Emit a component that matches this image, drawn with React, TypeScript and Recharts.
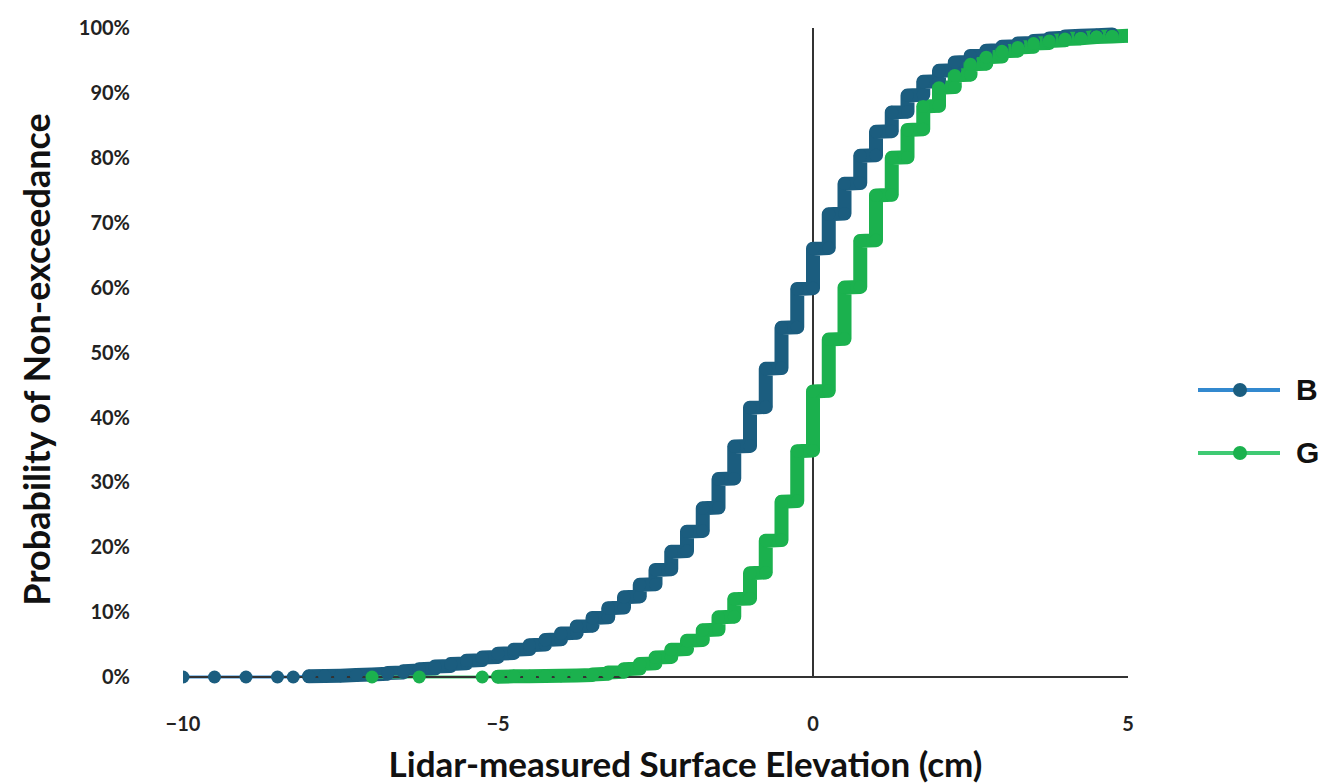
import React from 'react';
import { LineChart, Line, XAxis, YAxis, ReferenceLine, Legend, Label } from 'recharts';

// x ticks (cm) and y ticks (%)
const xTicks = [-10, -5, 0, 5];
const yTicks = [0, 10, 20, 30, 40, 50, 60, 70, 80, 90, 100];

// B: sparse tail points
const blueTailX = [-10, -9.5, -9, -8.5, -8.25];
const blueTailY = [0, 0, 0, 0, 0];

// B: staircase, bottom and top of each vertical run
const blueX = [
    -8, -7.75, -7.5, -7.25, -7, -6.75, -6.5, -6.25, -6, -5.75, -5.5, -5.25, -5, -4.75, -4.5, -4.25,
    -4, -3.75, -3.5, -3.25, -3, -2.75, -2.5, -2.25, -2, -1.75, -1.5, -1.25, -1, -0.75, -0.5, -0.25,
    0, 0.25, 0.5, 0.75, 1, 1.25, 1.5, 1.75, 2, 2.25, 2.5, 2.75, 3, 3.25, 3.5, 3.75, 4, 4.25, 4.5, 4.75,
];
const blueLo = [
    0.1, 0.15, 0.2, 0.3, 0.4, 0.5, 0.7, 1.0, 1.3, 1.7, 2.1, 2.6, 3.1, 3.7, 4.3, 5.0,
    5.8, 6.8, 7.9, 9.2, 10.7, 12.4, 14.3, 16.6, 19.4, 22.5, 26.1, 30.6, 35.6, 41.6, 47.6, 53.9,
    59.9, 66.1, 71.4, 76.1, 80.4, 84.1, 87.1, 89.7, 91.8, 93.5, 94.8, 95.8, 96.6, 97.2, 97.7, 98.1, 98.5, 98.8, 98.9, 99.0,
];
const blueHi = [
    0.1, 0.15, 0.2, 0.3, 0.4, 0.6, 0.9, 1.2, 1.6, 2.0, 2.5, 3.0, 3.6, 4.2, 4.9, 5.7,
    6.7, 7.8, 9.1, 10.6, 12.3, 14.2, 16.5, 19.3, 22.4, 26.0, 30.5, 35.5, 41.5, 47.5, 53.8, 59.8,
    66.0, 71.3, 76.0, 80.3, 84.0, 87.0, 89.6, 91.7, 93.4, 94.7, 95.7, 96.5, 97.1, 97.6, 98.0, 98.4, 98.7, 98.8, 98.9, 99.0,
];

// G: sparse tail points
const greenTailX = [-7, -6.25, -5.25];
const greenTailY = [0, 0, 0];

// G: staircase
const greenX = [
    -5, -4.75, -4.5, -4.25, -4, -3.75, -3.5, -3.25, -3, -2.75, -2.5, -2.25, -2, -1.75, -1.5, -1.25,
    -1, -0.75, -0.5, -0.25, 0, 0.25, 0.5, 0.75, 1, 1.25, 1.5, 1.75, 2, 2.25, 2.5, 2.75,
    3, 3.25, 3.5, 3.75, 4, 4.25, 4.5, 4.75, 5,
];
const greenLo = [
    0.05, 0.1, 0.1, 0.15, 0.2, 0.25, 0.3, 0.5, 0.8, 1.3, 2.1, 3.1, 4.3, 5.7, 7.3, 9.3,
    12.1, 16.1, 21.1, 27.1, 34.9, 44.1, 52.1, 60.1, 67.3, 74.3, 80.1, 84.4, 88.0, 90.9, 92.8, 94.5,
    95.6, 96.5, 97.1, 97.7, 98.1, 98.4, 98.6, 98.7, 98.8,
];
const greenHi = [
    0.05, 0.1, 0.1, 0.15, 0.2, 0.25, 0.4, 0.7, 1.2, 2.0, 3.0, 4.2, 5.6, 7.2, 9.2, 12.0,
    16.0, 21.0, 27.0, 34.8, 44.0, 52.0, 60.0, 67.2, 74.2, 80.0, 84.3, 87.9, 90.8, 92.7, 94.4, 95.5,
    96.4, 97.0, 97.6, 98.0, 98.3, 98.4, 98.6, 98.7, 98.8,
];

const steps = (xs: number[], lo: number[], hi: number[]) =>
    xs.flatMap((x, i) => [{ x, y: lo[i] }, { x, y: hi[i] }]);
const tail = (xs: number[], ys: number[]) => xs.map((x, i) => ({ x, y: ys[i] }));

const blueBody = steps(blueX, blueLo, blueHi);
const greenBody = steps(greenX, greenLo, greenHi);
const blueAll = [...tail(blueTailX, blueTailY), ...blueBody];
const greenAll = [...tail(greenTailX, greenTailY), ...greenBody];

const series = [
    { name: 'B', line: '#3389cf', dot: '#1b5d7f' },
    { name: 'G', line: '#3fca73', dot: '#1bb14e' },
];

const FONT = 'Lato, "Open Sans", sans-serif';

const LegendBox = () => (
    <div style={{ fontFamily: '"Liberation Sans", Arial, sans-serif', fontWeight: 700, fontSize: 30, color: '#111' }}>
        {series.map((s) => (
            <div key={s.name} style={{ display: 'flex', alignItems: 'center', height: 63 }}>
                <svg width={100} height={20}>
                    <line x1={2} x2={84} y1={10} y2={10} stroke={s.line} strokeWidth={4} />
                    <circle cx={44} cy={10} r={7} fill={s.dot} />
                </svg>
                <span>{s.name}</span>
            </div>
        ))}
    </div>
);

const App: React.FC = () => {
    return (
        <div style={{ position: 'absolute', left: 0, top: 0, width: 1336, height: 783, background: '#fff' }}>
            <LineChart width={1336} height={783} margin={{ top: 28, right: 208, left: 33, bottom: 76 }}>
                <XAxis
                    dataKey="x"
                    type="number"
                    domain={[-10, 5]}
                    ticks={xTicks}
                    allowDataOverflow
                    tickLine={false}
                    axisLine={{ stroke: '#333', strokeWidth: 2 }}
                    tickMargin={34}
                    tickFormatter={(v: number) => (v < 0 ? `\u2212${Math.abs(v)}` : `${v}`)}
                    tick={{ fill: '#222', fontSize: 20, fontWeight: 700, fontFamily: FONT }}
                >
                    <Label
                        value="Lidar-measured Surface Elevation (cm)"
                        position="bottom"
                        offset={45}
                        dx={30}
                        style={{ fill: '#111', fontSize: 35, fontWeight: 700, fontFamily: FONT }}
                    />
                </XAxis>
                <YAxis
                    type="number"
                    domain={[0, 100]}
                    ticks={yTicks}
                    width={150}
                    axisLine={false}
                    tickLine={false}
                    tickMargin={47}
                    tickFormatter={(v: number) => `${v}%`}
                    tick={{ fill: '#222', fontSize: 20, fontWeight: 700, fontFamily: FONT }}
                >
                    <Label
                        value="Probability of Non-exceedance"
                        angle={-90}
                        position="insideLeft"
                        offset={4}
                        dy={7}
                        style={{ textAnchor: 'middle', fill: '#111', fontSize: 36, fontWeight: 700, fontFamily: FONT }}
                    />
                </YAxis>
                <ReferenceLine x={0} stroke="#333" strokeWidth={2} />
                <Legend
                    layout="vertical"
                    align="center"
                    verticalAlign="middle"
                    wrapperStyle={{ left: 1196, top: 358, width: 140 }}
                    content={() => <LegendBox />}
                />
                {/* B */}
                <Line
                    data={blueAll}
                    dataKey="y"
                    name="B"
                    stroke={series[0].line}
                    strokeWidth={3}
                    dot={{ r: 6.5, fill: series[0].dot, stroke: series[0].dot, strokeWidth: 0 }}
                    isAnimationActive={false}
                    legendType="none"
                />
                <Line
                    data={blueBody}
                    dataKey="y"
                    stroke={series[0].dot}
                    strokeWidth={14}
                    strokeLinejoin="round"
                    strokeLinecap="round"
                    dot={false}
                    isAnimationActive={false}
                    legendType="none"
                />
                {/* G */}
                <Line
                    data={greenAll}
                    dataKey="y"
                    name="G"
                    stroke={series[1].line}
                    strokeWidth={3}
                    dot={{ r: 6.5, fill: series[1].dot, stroke: series[1].dot, strokeWidth: 0 }}
                    isAnimationActive={false}
                    legendType="none"
                />
                <Line
                    data={greenBody}
                    dataKey="y"
                    stroke={series[1].dot}
                    strokeWidth={14}
                    strokeLinejoin="round"
                    strokeLinecap="round"
                    dot={false}
                    isAnimationActive={false}
                    legendType="none"
                />
            </LineChart>
        </div>
    );
};

export default App;
